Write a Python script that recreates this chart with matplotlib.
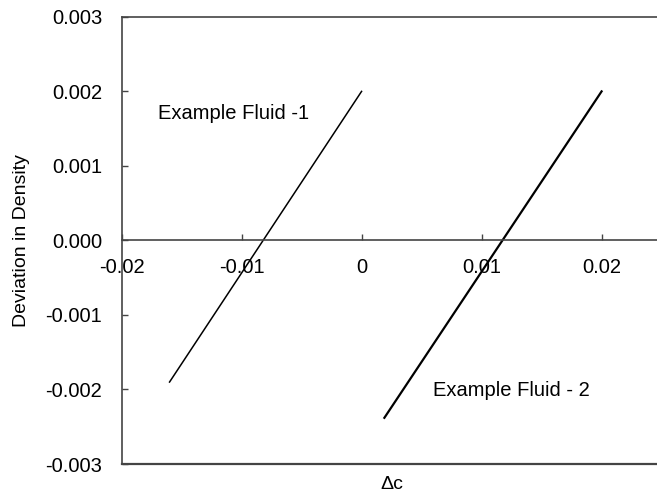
import matplotlib.pyplot as plt

plt.rcParams['font.family'] = ['Liberation Sans', 'DejaVu Sans']

# data
fluid1_dc = [-0.0160, 0.0]
fluid1_dev = [-0.0019, 0.0020]
fluid2_dc = [0.0019, 0.0200]
fluid2_dev = [-0.00238, 0.0020]

xticks = [-0.02, -0.01, 0.0, 0.01, 0.02]
xticklabels = ['-0.02', '-0.01', '0', '0.01', '0.02']
yticks = [-0.003, -0.002, -0.001, 0.0, 0.001, 0.002, 0.003]
yticklabels = ['-0.003', '-0.002', '-0.001', '0.000', '0.001', '0.002', '0.003']

fig = plt.figure(figsize=(6.57, 4.96), dpi=100)
ax = fig.add_axes([0.185, 0.0645, 0.822, 0.9015])

ax.plot(fluid1_dc, fluid1_dev, color='black', lw=1.1)
ax.plot(fluid2_dc, fluid2_dev, color='black', lw=1.6)

ax.set_xlim(-0.02, 0.025)
ax.set_ylim(-0.003, 0.003)

spine_col = '#444444'
ax.spines['right'].set_visible(False)
ax.spines['bottom'].set_position(('data', 0))
for s in ['left', 'top', 'bottom']:
    ax.spines[s].set_color(spine_col)
    ax.spines[s].set_linewidth(1.2)
# lower frame line
ax.axhline(-0.003, color=spine_col, lw=1.6, clip_on=False)

ax.set_xticks(xticks)
ax.set_xticklabels(xticklabels)
ax.set_yticks(yticks)
ax.set_yticklabels(yticklabels)
ax.tick_params(axis='both', direction='in', length=4, width=1, color=spine_col,
               labelsize=14.5)
ax.tick_params(axis='x', pad=13)
ax.tick_params(axis='y', pad=14)

ax.text(-0.01697, 0.0017, 'Example Fluid -1', fontsize=14.5, va='center', ha='left')
ax.text(0.00592, -0.00202, 'Example Fluid - 2', fontsize=14.5, va='center', ha='left')

ax.set_ylabel('Deviation in Density', fontsize=14)
ax.yaxis.set_label_coords(-0.17, 0.5)
ax.text(0.5, -0.045, '\u0394c', transform=ax.transAxes, fontsize=14,
        ha='center', va='center')

fig.savefig('out.png', dpi=100)
